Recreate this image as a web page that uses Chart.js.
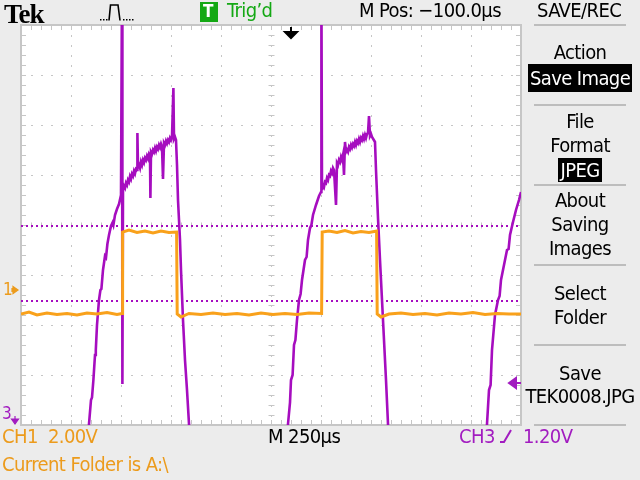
<!DOCTYPE html>
<html>
<head>
<meta charset="utf-8">
<script src="https://cdn.jsdelivr.net/npm/chart.js@4.4.1/dist/chart.umd.min.js"></script>
<style>
  html, body { margin: 0; padding: 0; }
  body {
    width: 640px; height: 480px; position: relative; overflow: hidden;
    background: #ececec;
    font-family: "DejaVu Sans Condensed", "Liberation Sans Narrow", "DejaVu Sans", sans-serif;
  }
  #plot { position: absolute; left: 20px; top: 24px; width: 502px; height: 402px; background: #fff; }
  #deco { position: absolute; left: 0; top: 0; }
  .t { position: absolute; font-size: 20px; line-height: 20px; white-space: nowrap; color: #000; letter-spacing: -0.6px; }
  .menu { position: absolute; left: 520px; width: 120px; text-align: center; font-size: 20px; line-height: 20px;
          white-space: nowrap; letter-spacing: -0.6px; }
  .inv { background: #000; color: #fff; padding: 2px 2px; }
  .orange { color: #ec9b1c; }
  .purple { color: #a21cc0; }
</style>
</head>
<body>
<div id="plot"><canvas id="scope"></canvas></div>

<svg id="deco" width="640" height="480">
  <!-- trigger type icon -->
  <g fill="#000">
    <rect x="100" y="19" width="1.5" height="1.5"/><rect x="103" y="19" width="1.5" height="1.5"/>
    <rect x="106" y="19" width="1.5" height="1.5"/>
    <rect x="123" y="19" width="1.5" height="1.5"/><rect x="126" y="19" width="1.5" height="1.5"/>
    <rect x="129" y="19" width="1.5" height="1.5"/><rect x="132" y="19" width="1.5" height="1.5"/>
  </g>
  <path d="M109,20.5 L110.5,5 L118,5 L120,20.5" fill="none" stroke="#000" stroke-width="1.6"/>
  <!-- green trigger badge -->
  <rect x="200" y="2" width="18" height="20" fill="#14a814"/>
  <!-- right menu separators -->
  <g stroke="#bdbdbd" stroke-width="2">
    <line x1="534" y1="25" x2="626" y2="25"/>
    <line x1="534" y1="105" x2="626" y2="105"/>
    <line x1="534" y1="185" x2="626" y2="185"/>
    <line x1="534" y1="265" x2="626" y2="265"/>
    <line x1="534" y1="345" x2="626" y2="345"/>
    <line x1="534" y1="425" x2="626" y2="425"/>
  </g>
  <!-- trigger position marker -->
  <path d="M291,27 V33 M285,32 L297,32 L291,38 Z" stroke="#000" stroke-width="2" fill="#000"/>
  <!-- CH1 ground marker -->
  <path d="M12,288 L12,292 M13,286.5 L18,290 L13,293.5 Z" stroke="#ec9b1c" stroke-width="1.2" fill="#ec9b1c"/>
  <!-- CH3 ground marker -->
  <path d="M15,416 V421 M11.5,419 L18.5,419 L15,424 Z" stroke="#a21cc0" stroke-width="1.2" fill="#a21cc0"/>
  <!-- CH3 trigger level marker -->
  <path d="M509,383 L516,378 L516,388 Z M515,383 H521" stroke="#a21cc0" stroke-width="2" fill="#a21cc0"/>
  <!-- rising edge symbol -->
  <path d="M500,442 H504 L511,430" fill="none" stroke="#a21cc0" stroke-width="2"/>
</svg>

<div class="t" style="left:4px; top:1px; font-family:'Liberation Serif','DejaVu Serif',serif; font-weight:bold; font-size:27px; line-height:27px; letter-spacing:-1px;">Tek</div>
<div class="t" style="left:203px; top:1px; color:#fff; font-weight:bold; font-size:17px;">T</div>
<div class="t" style="left:227px; top:0px; color:#14a814;">Trig’d</div>
<div class="t" style="left:359px; top:0px;">M Pos: −100.0µs</div>
<div class="t" style="left:537px; top:0px;">SAVE/REC</div>

<div class="menu" style="top:42px;">Action</div>
<div class="menu" style="top:68px;"><span class="inv">Save Image</span></div>
<div class="menu" style="top:111px;">File</div>
<div class="menu" style="top:135px;">Format</div>
<div class="menu" style="top:160px;"><span class="inv" style="padding:0 2px;">JPEG</span></div>
<div class="menu" style="top:190px;">About</div>
<div class="menu" style="top:214px;">Saving</div>
<div class="menu" style="top:238px;">Images</div>
<div class="menu" style="top:283px;">Select</div>
<div class="menu" style="top:307px;">Folder</div>
<div class="menu" style="top:363px;">Save</div>
<div class="menu" style="top:386px;">TEK0008.JPG</div>

<div class="t orange" style="left:3px; top:279px; font-size:17px;">1</div>
<div class="t purple" style="left:2px; top:403px; font-size:17px;">3</div>

<div class="t orange" style="left:2px; top:426px;">CH1&nbsp;&nbsp;2.00V</div>
<div class="t" style="left:268px; top:426px;">M 250µs</div>
<div class="t purple" style="left:459px; top:426px;">CH3</div>
<div class="t purple" style="left:523px; top:426px;">1.20V</div>
<div class="t orange" style="left:2px; top:454px;">Current Folder is A:\</div>

<script>
// time in µs from the left edge of the screen, level in divisions from centre
const ch1Time = [0, 40, 80, 130, 180, 230, 280, 330, 380, 430,
  480, 505, 508, 540, 580, 620, 660, 700, 740, 778,
  781, 800, 840, 900, 960, 1020, 1080, 1140, 1200, 1260,
  1320, 1380, 1440, 1503, 1506, 1540, 1580, 1620, 1660, 1700,
  1740, 1778, 1781, 1800, 1840, 1900, 1960, 2020, 2080, 2140,
  2200, 2260, 2320, 2380, 2440, 2500];
const ch1Level = [-1.78, -1.74, -1.8, -1.76, -1.79, -1.77, -1.8, -1.76, -1.78, -1.75,
  -1.79, -1.77, -0.14, -0.1, -0.15, -0.12, -0.16, -0.12, -0.15, -0.14,
  -1.78, -1.84, -1.77, -1.79, -1.76, -1.79, -1.77, -1.8, -1.76, -1.79,
  -1.77, -1.79, -1.76, -1.77, -0.14, -0.12, -0.15, -0.11, -0.16, -0.13,
  -0.15, -0.12, -1.78, -1.84, -1.78, -1.76, -1.79, -1.77, -1.8, -1.76,
  -1.78, -1.75, -1.79, -1.77, -1.78, -1.78];

// CH3, one pulse at a time
const ch3TimeA = [0, 315, 340, 350, 355, 362, 370, 374, 380, 390,
  397, 402, 410, 420, 425, 432, 440, 450, 458, 462,
  470, 480, 490, 500, 505, 507, 510, 515, 520, 525,
  530, 535, 540, 545, 550, 555, 560, 565, 570, 575,
  580, 582, 585, 590, 595, 600, 605, 610, 615, 620,
  625, 630, 635, 640, 645, 647, 650, 655, 660, 665,
  670, 675, 680, 685, 690, 695, 700, 705, 710, 715,
  720, 725, 730, 735, 740, 745, 750, 755, 762, 765,
  770, 775, 780, 785, 795, 800, 810, 820, 830, 840, 855];
const ch3LevelA = [-5.5, -5.5, -3.98, -3.5, -3.45, -3.1, -2.6, -2.5, -2.0, -1.5,
  -1.3, -1.28, -0.9, -0.62, -0.65, -0.38, -0.2, -0.02, 0.05, 0.0,
  0.2, 0.32, 0.42, 0.6, 4.9, -3.18, 0.7, 0.78, 0.74, 0.84,
  0.8, 0.9, 0.86, 0.97, 0.92, 1.02, 0.98, 1.08, 1.03, 1.12,
  1.1, 1.84, 1.16, 1.2, 1.14, 1.26, 1.2, 1.3, 1.25, 1.34,
  1.3, 1.38, 1.33, 1.42, 1.38, 0.54, 1.46, 1.42, 1.5, 1.46,
  1.54, 1.48, 1.56, 1.52, 1.6, 1.55, 1.62, 1.56, 0.92, 1.64,
  1.6, 1.68, 1.63, 1.7, 1.66, 1.74, 1.7, 1.76, 2.74, 1.72,
  1.76, 1.7, 1.2, 0.5, -0.3, -0.9, -1.9, -2.7, -3.3, -3.98, -5.5];

const ch3TimeB = [1315, 1335, 1345, 1350, 1358, 1365, 1372, 1380, 1390, 1398,
  1405, 1420, 1428, 1435, 1445, 1452, 1460, 1475, 1490, 1500,
  1502, 1505, 1510, 1515, 1520, 1525, 1530, 1535, 1540, 1545,
  1550, 1555, 1560, 1565, 1575, 1580, 1585, 1590, 1595, 1600,
  1605, 1610, 1615, 1620, 1625, 1630, 1635, 1640, 1645, 1650,
  1655, 1660, 1665, 1670, 1675, 1680, 1685, 1690, 1695, 1700,
  1705, 1710, 1715, 1720, 1725, 1730, 1735, 1740, 1745, 1750,
  1755, 1770, 1775, 1785, 1795, 1805, 1815, 1825, 1835, 1845];
const ch3LevelB = [-5.5, -3.98, -3.55, -3.1, -3.0, -2.4, -2.3, -1.9, -1.5, -1.38,
  -1.1, -0.7, -0.64, -0.3, -0.06, 0.0, 0.2, 0.4, 0.58, 0.66,
  4.9, 0.7, 0.8, 0.76, 0.86, 0.84, 0.94, 0.9, 1.0, 0.98,
  1.08, 1.04, 1.14, 1.1, 0.4, 1.24, 1.2, 1.3, 1.26, 1.36,
  1.3, 1.4, 1.0, 1.66, 1.46, 1.5, 1.46, 1.56, 1.52, 1.6,
  1.55, 1.62, 1.58, 1.66, 1.6, 1.68, 1.64, 1.72, 1.66, 1.74,
  1.7, 1.78, 1.72, 1.8, 1.74, 1.82, 1.84, 2.18, 1.78, 1.82,
  1.76, 1.66, 1.1, 0.14, -0.7, -1.5, -2.3, -3.1, -3.98, -5.5];

const ch3TimeC = [2315, 2330, 2340, 2348, 2355, 2370, 2385, 2393, 2400, 2415,
  2430, 2438, 2445, 2460, 2475, 2490, 2500];
const ch3LevelC = [-5.5, -3.98, -3.3, -3.2, -2.5, -1.8, -1.5, -1.42, -1.1, -0.8,
  -0.5, -0.48, -0.2, 0.06, 0.3, 0.5, 0.66];

// dotted cursor levels (divisions)
const cursorLevels = [-0.02, -1.52];

const screenTime = [0, 2500];   // 10 div x 250 µs
const screenDiv = [-4, 4];      // 8 vertical divisions

const ORANGE = '#f9a11b';
const PURPLE = '#a60dbf';

function toPoints(xs, ys) {
  return xs.map((x, i) => ({ x: x, y: ys[i] }));
}

// small tick marks on the frame and the centre cross, plus the frame itself
const graticule = {
  id: 'graticule',
  beforeDatasetsDraw(chart) {
    const { ctx, chartArea: a, scales: { x, y } } = chart;
    const xc = Math.round(x.getPixelForValue(1250)) + 0.5;
    const yc = Math.round(y.getPixelForValue(0)) + 0.5;
    ctx.save();
    ctx.strokeStyle = '#c6c6c6';
    ctx.lineWidth = 1;
    ctx.beginPath();
    for (let t = 50; t < screenTime[1]; t += 50) {
      const px = Math.round(x.getPixelForValue(t)) + 0.5;
      ctx.moveTo(px, a.top); ctx.lineTo(px, a.top + 5);
      ctx.moveTo(px, a.bottom); ctx.lineTo(px, a.bottom - 5);
      ctx.moveTo(px, yc - 3); ctx.lineTo(px, yc + 3);
    }
    for (let k = -19; k < 20; k++) {
      const py = Math.round(y.getPixelForValue(k / 5)) + 0.5;
      ctx.moveTo(a.left, py); ctx.lineTo(a.left + 5, py);
      ctx.moveTo(a.right, py); ctx.lineTo(a.right - 5, py);
      ctx.moveTo(xc - 3, py); ctx.lineTo(xc + 3, py);
    }
    ctx.stroke();
    ctx.lineWidth = 2;
    ctx.strokeRect(a.left, a.top, a.right - a.left, a.bottom - a.top);
    ctx.restore();
  }
};

const datasets = [
  { label: 'CH1', data: toPoints(ch1Time, ch1Level), borderColor: ORANGE, borderWidth: 3 },
  { label: 'CH3', data: toPoints(ch3TimeA, ch3LevelA), borderColor: PURPLE, borderWidth: 2.6 },
  { label: 'CH3', data: toPoints(ch3TimeB, ch3LevelB), borderColor: PURPLE, borderWidth: 2.6 },
  { label: 'CH3', data: toPoints(ch3TimeC, ch3LevelC), borderColor: PURPLE, borderWidth: 2.6 }
];
cursorLevels.forEach(lv => {
  datasets.push({
    label: 'cursor',
    data: toPoints(screenTime, [lv, lv]),
    borderColor: PURPLE,
    borderWidth: 2,
    borderDash: [2, 3]
  });
});

new Chart(document.getElementById('scope').getContext('2d'), {
  type: 'line',
  data: { datasets: datasets },
  options: {
    responsive: true,
    maintainAspectRatio: false,
    animation: false,
    layout: { padding: 1 },
    elements: { point: { radius: 0 }, line: { tension: 0 } },
    plugins: { legend: { display: false }, tooltip: { enabled: false } },
    scales: {
      x: {
        type: 'linear', min: screenTime[0], max: screenTime[1],
        ticks: { display: false, stepSize: 250 },
        grid: { color: '#c6c6c6', drawTicks: false },
        border: { display: false, dash: [2, 8] }
      },
      y: {
        type: 'linear', min: screenDiv[0], max: screenDiv[1],
        ticks: { display: false, stepSize: 1 },
        grid: { color: '#c6c6c6', drawTicks: false },
        border: { display: false, dash: [2, 8] }
      }
    }
  },
  plugins: [graticule]
});
</script>
</body>
</html>
